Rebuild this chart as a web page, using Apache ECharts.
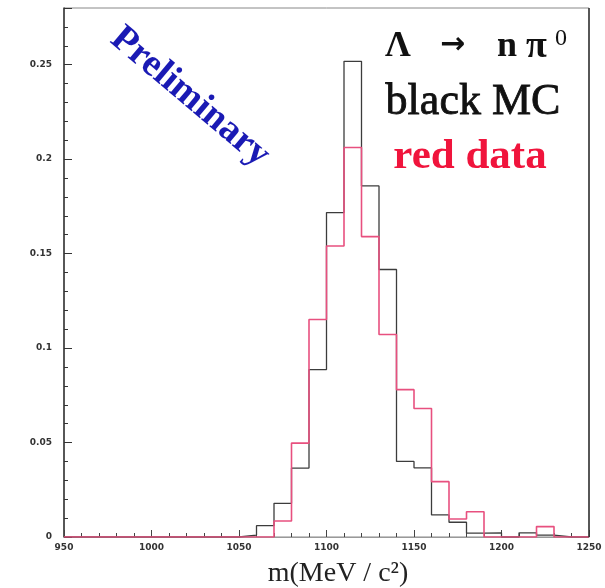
<!DOCTYPE html>
<html><head><meta charset="utf-8">
<script src="https://cdn.jsdelivr.net/npm/echarts@6/dist/echarts.min.js"></script>
<style>html,body{margin:0;padding:0;background:#fff}#c{width:605px;height:588px}</style>
</head><body><div id="c"></div>
<script>
// bin lower edges (MeV), 10 MeV wide bins
const binLow = [950,960,970,980,990,1000,1010,1020,1030,1040,1050,1060,1070,1080,1090,1100,1110,1120,1130,1140,1150,1160,1170,1180,1190,1200,1210,1220,1230,1240];
const binHighEnd = 1250;
// black: Monte Carlo
const mcValues = [0,0,0,0,0,0,0,0,0,0,0.001,0.006,0.0178,0.0365,0.0886,0.1717,0.2518,0.1858,0.1416,0.040,0.0366,0.0117,0.0078,0.002,0.0022,0,0.0022,0.001,0,0];
// red: data
const dataValues = [0,0,0,0,0,0,0,0,0,0,0,0,0.0085,0.0497,0.1151,0.154,0.2062,0.159,0.1072,0.078,0.068,0.0293,0.0095,0.0134,0,0,0,0.0055,0,0];
const xTickLabels = ['950','1000','1050','1100','1150','1200','1250'];
const yTickLabels = ['0','0.05','0.1','0.15','0.2','0.25'];

function stepData(vals){
  const d = binLow.map((x,i)=>[x, vals[i]]);
  d.push([binHighEnd, vals[vals.length-1]]);
  return d;
}
function matchLabel(list, v){
  for (const s of list){ if (Math.abs(Number(s)-v) < 1e-7) return s; }
  return '';
}
const labelStyle = {fontSize:9, fontWeight:'bold', color:'#333', fontFamily:'DejaVu Sans'};
const chart = echarts.init(document.getElementById('c'), null, {renderer:'canvas'});
chart.setOption({
  animation:false,
  backgroundColor:'#fff',
  grid:{left:64, right:16, top:8, bottom:51, show:true, borderColor:'#888', borderWidth:1},
  xAxis:[
    {type:'value', min:950, max:1250, interval:10, position:'bottom',
     axisLine:{onZero:false, lineStyle:{color:'#999', width:1}},
     axisTick:{inside:true, length:4, lineStyle:{color:'#444'}},
     axisLabel:{...labelStyle, margin:6, showMinLabel:true, showMaxLabel:true, formatter:v=>matchLabel(xTickLabels,v)},
     splitLine:{show:false}},
    {type:'value', min:950, max:1250, interval:50, position:'bottom',
     axisLine:{show:false, onZero:false}, axisTick:{inside:true, length:7, lineStyle:{color:'#444'}},
     axisLabel:{show:false}, splitLine:{show:false}}
  ],
  yAxis:[
    {type:'value', min:0, max:0.28, interval:0.01, position:'left',
     axisLine:{onZero:false, lineStyle:{color:'#333', width:1.5}},
     axisTick:{inside:true, length:4, lineStyle:{color:'#333'}},
     axisLabel:{...labelStyle, margin:12, showMaxLabel:false, formatter:v=>matchLabel(yTickLabels,v)},
     splitLine:{show:false}},
    {type:'value', min:0, max:0.28, interval:0.05, position:'left',
     axisLine:{show:false, onZero:false}, axisTick:{inside:true, length:8, lineStyle:{color:'#333'}},
     axisLabel:{show:false}, splitLine:{show:false}}
  ],
  series:[
    {type:'line', name:'MC', step:'end', data:stepData(mcValues), symbol:'none', xAxisIndex:0, yAxisIndex:0,
     lineStyle:{color:'#3c3c3c', width:1.3}, z:3},
    {type:'line', name:'data', step:'end', data:stepData(dataValues), symbol:'none', xAxisIndex:0, yAxisIndex:0,
     lineStyle:{color:'#e8507f', width:1.6}, z:4}
  ],
  graphic:[
    {type:'line', shape:{x1:589, y1:8, x2:589, y2:537}, style:{stroke:'#333', lineWidth:1.5}, z:10},
    {type:'text', x:190, y:97, rotation:-0.70, style:{text:'Preliminary', font:'bold 38px "Liberation Serif"', fill:'#1a1ab4', align:'center', verticalAlign:'middle'}, z:10},
    {type:'text', x:385, y:47, style:{text:'Λ', font:'bold 36px "Liberation Serif"', fill:'#111', align:'left', verticalAlign:'middle'}, z:10},
    {type:'text', x:440, y:45, style:{text:'→', font:'bold 30px "DejaVu Sans"', fill:'#111', align:'left', verticalAlign:'middle'}, z:10},
    {type:'text', x:497, y:47, style:{text:'n', font:'bold 36px "Liberation Serif"', fill:'#111', align:'left', verticalAlign:'middle'}, z:10},
    {type:'text', x:526, y:47, style:{text:'π', font:'bold 38px "Liberation Serif"', fill:'#111', align:'left', verticalAlign:'middle'}, z:10},
    {type:'text', x:555, y:39, style:{text:'0', font:'24px "Liberation Serif"', fill:'#111', align:'left', verticalAlign:'middle'}, z:10},
    {type:'text', x:473, y:102, style:{text:'black MC', font:'44px "Liberation Serif"', fill:'#111', stroke:'#111', lineWidth:0.8, align:'center', verticalAlign:'middle'}, z:10},
    {type:'text', x:470, y:157, style:{text:'red data', font:'bold 43px "Liberation Serif"', fill:'#f0143c', align:'center', verticalAlign:'middle'}, z:10},
    {type:'text', x:338, y:574, style:{text:'m(MeV / c²)', font:'28px "Liberation Serif"', fill:'#222', align:'center', verticalAlign:'middle'}, z:10}
  ]
});
</script></body></html>
